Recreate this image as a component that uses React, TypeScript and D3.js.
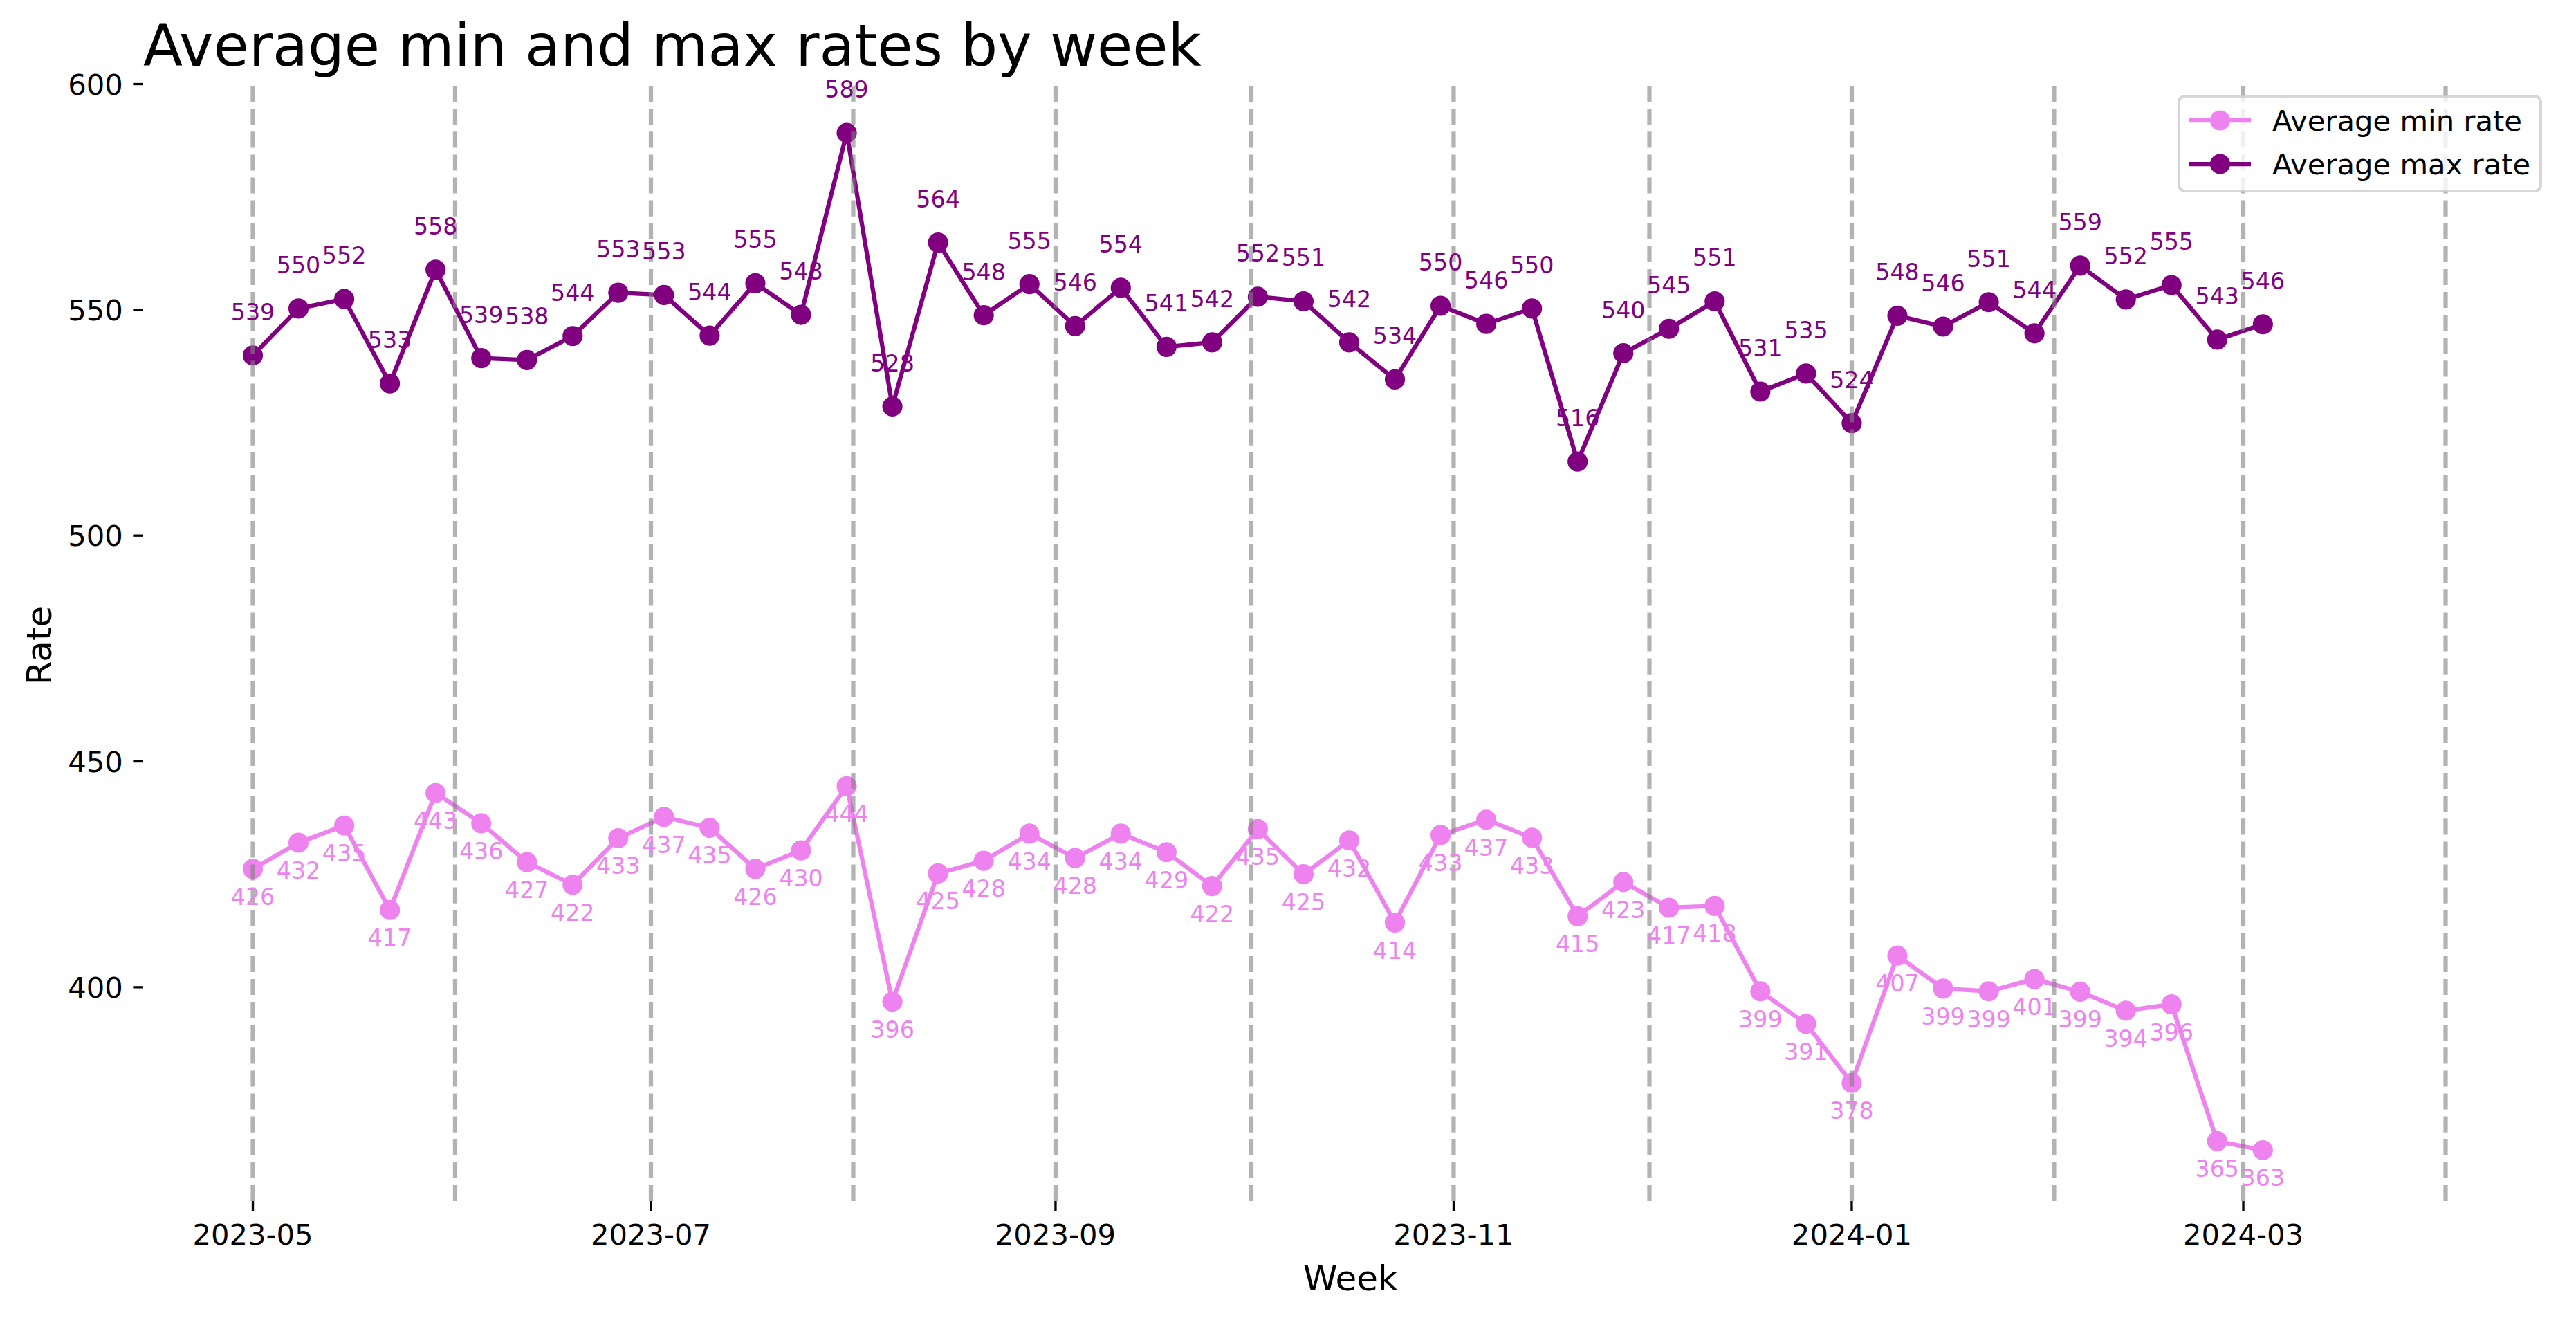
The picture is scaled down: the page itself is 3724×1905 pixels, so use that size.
import React, { useEffect } from "react";
import * as d3 from "d3";

const weeks = [
  "2023-05-01","2023-05-08","2023-05-15","2023-05-22","2023-05-29",
  "2023-06-05","2023-06-12","2023-06-19","2023-06-26",
  "2023-07-03","2023-07-10","2023-07-17","2023-07-24","2023-07-31",
  "2023-08-07","2023-08-14","2023-08-21","2023-08-28",
  "2023-09-04","2023-09-11","2023-09-18","2023-09-25",
  "2023-10-02","2023-10-09","2023-10-16","2023-10-23","2023-10-30",
  "2023-11-06","2023-11-13","2023-11-20","2023-11-27",
  "2023-12-04","2023-12-11","2023-12-18","2023-12-25",
  "2024-01-01","2024-01-08","2024-01-15","2024-01-22","2024-01-29",
  "2024-02-05","2024-02-12","2024-02-19","2024-02-26",
  "2024-03-04",
];

const minRate = [
  426.2, 432.0, 435.8, 417.1, 443.0, 436.3, 427.7, 422.7, 433.0, 437.7,
  435.3, 426.2, 430.3, 444.5, 396.8, 425.2, 428.0, 434.0, 428.6, 434.0,
  429.9, 422.4, 435.0, 425.0, 432.5, 414.3, 433.7, 437.1, 433.1, 415.7,
  423.3, 417.6, 418.0, 399.1, 391.9, 378.8, 407.0, 399.7, 399.1, 401.8,
  399.0, 394.8, 396.2, 365.9, 363.9,
];

const maxRate = [
  539.9, 550.3, 552.4, 533.7, 558.9, 539.3, 538.9, 544.2, 553.8, 553.3,
  544.3, 555.9, 548.9, 589.2, 528.6, 564.9, 548.8, 555.7, 546.4, 554.9,
  541.8, 542.8, 552.9, 551.9, 542.8, 534.6, 550.9, 546.9, 550.3, 516.4,
  540.4, 545.8, 551.9, 531.9, 535.9, 524.9, 548.7, 546.3, 551.7, 544.8,
  559.8, 552.3, 555.5, 543.4, 546.8,
];

const monthLines = [
  "2023-05-01","2023-06-01","2023-07-01","2023-08-01","2023-09-01","2023-10-01",
  "2023-11-01","2023-12-01","2024-01-01","2024-02-01","2024-03-01","2024-04-01",
];

const xTicks = ["2023-05-01","2023-07-01","2023-09-01","2023-11-01","2024-01-01","2024-03-01"];
const yTicks = [400, 450, 500, 550, 600];

const seriesNames = ["Average min rate", "Average max rate"];
const seriesColors = ["#EE82EE", "#800080"];

const W = 3724;
const H = 1905;
const FONT = "DejaVu Sans";

export default function App() {
  useEffect(() => {
    document.body.style.margin = "0";
  }, []);

  const parse = (s: string) => new Date(s + "T00:00:00Z");
  const dates = weeks.map(parse);
  const vlines = monthLines.map(parse);

  const left = 207, right = 3694, top = 118.5, bottom = 1736;

  const xMin = +dates[0];
  const xMax = Math.max(+dates[dates.length - 1], +vlines[vlines.length - 1]);
  const xPad = (xMax - xMin) * 0.05;
  const x = d3.scaleUtc().domain([new Date(xMin - xPad), new Date(xMax + xPad)]).range([left, right]);

  const all = [...minRate, ...maxRate];
  const yLo = d3.min(all)!, yHi = d3.max(all)!;
  const yPad = (yHi - yLo) * 0.05;
  const y = d3.scaleLinear().domain([yLo - yPad, yHi + yPad]).range([bottom, top]);

  const line = d3.line<number>().x((_, i) => x(dates[i])).y((v) => y(v));
  const fmtTick = d3.utcFormat("%Y-%m");

  const series = [minRate, maxRate];

  // legend geometry
  const lgX = 3150, lgY = 139, lgW = 523, lgH = 137;
  const rowY = [174, 237];

  return (
    <svg width={W} height={H} style={{ display: "block", background: "#fff" }} fontFamily={FONT}>
      <rect x={0} y={0} width={W} height={H} fill="#fff" />
      {/* title */}
      <text x={left} y={95} fontSize={83.3} fill="#000">Average min and max rates by week</text>

      {/* series lines */}
      {series.map((s, k) => (
        <g key={"s" + k}>
          <path d={line(s)!} fill="none" stroke={seriesColors[k]} strokeWidth={6.25} strokeLinejoin="round" strokeLinecap="round" />
          {s.map((v, i) => (
            <circle key={i} cx={x(dates[i])} cy={y(v)} r={12.5} fill={seriesColors[k]} stroke={seriesColors[k]} strokeWidth={4.17} />
          ))}
        </g>
      ))}

      {/* vertical month lines */}
      {vlines.map((d, i) => (
        <line key={"v" + i} x1={x(d)} x2={x(d)} y1={bottom} y2={top} stroke="#808080" strokeOpacity={0.6}
          strokeWidth={6.25} strokeDasharray="23.1 10" />
      ))}

      {/* value labels */}
      {minRate.map((v, i) => (
        <text key={"lm" + i} x={x(dates[i])} y={y(v) + 52} fontSize={33.3} textAnchor="middle" fill={seriesColors[0]}>
          {Math.floor(v)}
        </text>
      ))}
      {maxRate.map((v, i) => (
        <text key={"lx" + i} x={x(dates[i])} y={y(v) - 51} fontSize={33.3} textAnchor="middle" fill={seriesColors[1]}>
          {Math.floor(v)}
        </text>
      ))}

      {/* y axis */}
      {yTicks.map((t) => (
        <g key={"yt" + t}>
          <line x1={left - 14.6} x2={left} y1={y(t)} y2={y(t)} stroke="#000" strokeWidth={3.33} />
          <text x={left - 29.2} y={y(t) + 15.2} fontSize={41.7} textAnchor="end" fill="#000">{t}</text>
        </g>
      ))}
      {/* x axis */}
      {xTicks.map((s) => {
        const d = parse(s);
        return (
          <g key={"xt" + s}>
            <line x1={x(d)} x2={x(d)} y1={bottom} y2={bottom + 14.6} stroke="#000" strokeWidth={3.33} />
            <text x={x(d)} y={bottom + 63} fontSize={41.7} textAnchor="middle" fill="#000">{fmtTick(d)}</text>
          </g>
        );
      })}

      {/* axis labels */}
      <text x={(left + right) / 2 + 2} y={1865} fontSize={50} textAnchor="middle" fill="#000">Week</text>
      <text transform={`translate(74, 933) rotate(-90)`} fontSize={50} textAnchor="middle" fill="#000">Rate</text>

      {/* legend */}
      <rect x={lgX} y={lgY} width={lgW} height={lgH} rx={8.3} ry={8.3} fill="#fff" fillOpacity={0.8}
        stroke="#cccccc" strokeOpacity={0.8} strokeWidth={4.17} />
      {seriesNames.map((n, k) => (
        <g key={"lg" + k}>
          <line x1={3165} x2={3254} y1={rowY[k]} y2={rowY[k]} stroke={seriesColors[k]} strokeWidth={6.25} />
          <circle cx={3209.5} cy={rowY[k]} r={12.5} fill={seriesColors[k]} stroke={seriesColors[k]} strokeWidth={4.17} />
          <text x={3285} y={rowY[k] + 15} fontSize={41.7} fill="#000">{n}</text>
        </g>
      ))}
    </svg>
  );
}
